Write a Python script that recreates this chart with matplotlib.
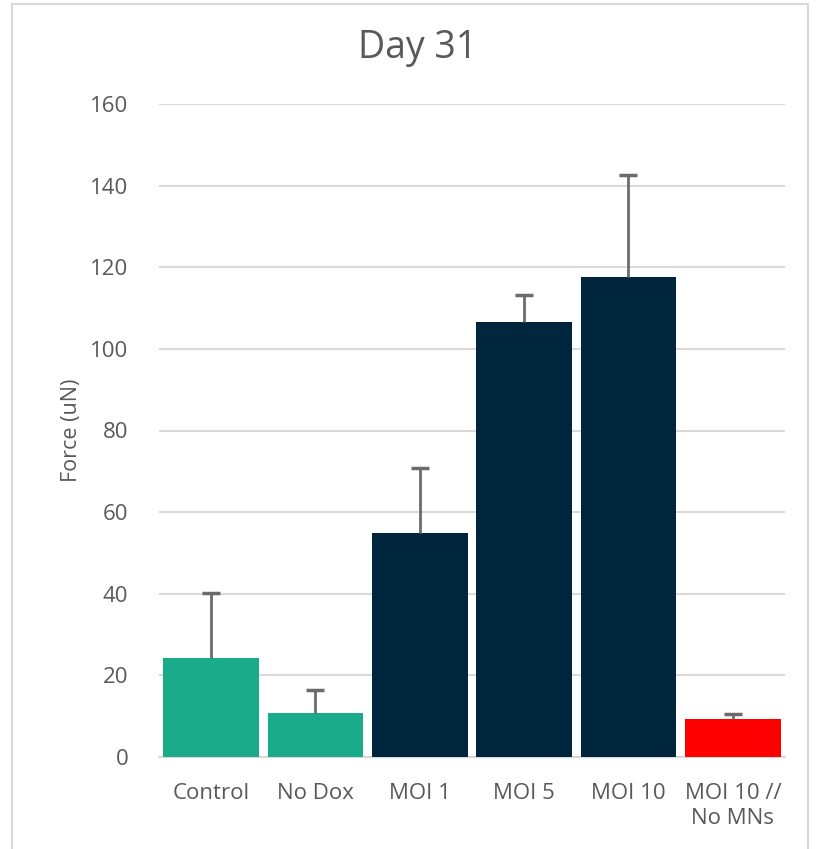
import matplotlib
matplotlib.use("Agg")
import matplotlib.pyplot as plt
from matplotlib.patches import Rectangle

categories = ["Control", "No Dox", "MOI 1", "MOI 5", "MOI 10", "MOI 10 //\nNo MNs"]
values = [24.3, 10.8, 54.8, 106.6, 117.6, 9.3]
errors = [15.8, 5.6, 16.0, 6.6, 25.0, 1.2]
colors = ["#1AAB8A", "#1AAB8A", "#00263E", "#00263E", "#00263E", "#FF0000"]
yticks = [0, 20, 40, 60, 80, 100, 120, 140, 160]

plt.rcParams['font.family'] = ['Open Sans', 'DejaVu Sans']
text_color = "#595959"

fig = plt.figure(figsize=(8.2, 8.49), dpi=100)
ax = fig.add_axes([159/820, 1-757/849, (785-159)/820, (757-104)/849])

x = list(range(len(categories)))
tops = [v + e for v, e in zip(values, errors)]
ax.bar(x, values, width=0.92, color=colors, zorder=3)
ax.vlines(x, values, tops, color="#6b6b6b", linewidth=2, zorder=4)
ax.plot(x, tops, linestyle='none', marker='_', markersize=13, markeredgewidth=2.5,
        color="#6b6b6b", zorder=4)

ax.set_xlim(-0.5, len(categories)-0.5)
ax.set_ylim(0, 160)
ax.set_yticks(yticks)
ax.set_xticks(x)
ax.set_xticklabels(categories, fontsize=16, color=text_color, linespacing=1.2)
ax.tick_params(axis='y', labelsize=16, colors=text_color, length=0, pad=22)
ax.tick_params(axis='x', length=0, pad=19)
ax.grid(axis='y', color="#d9d9d9", linewidth=1.5, zorder=0)
for s in ["top", "right", "left"]:
    ax.spines[s].set_visible(False)
ax.spines["bottom"].set_color("#d9d9d9")
ax.spines["bottom"].set_linewidth(1.5)
ax.set_ylabel("Force (uN)", fontsize=15.5, color=text_color, labelpad=6)
fig.text(418/820, 1-48/849, "Day 31", fontsize=27, color=text_color, ha="center", va="center")

fig.patches.append(Rectangle((12/820, -0.01), (808-12)/820, 1-4/849+0.01,
                             transform=fig.transFigure, fill=False,
                             edgecolor="#d9d9d9", linewidth=1.5))

fig.savefig("out.png", dpi=100, facecolor="white")
